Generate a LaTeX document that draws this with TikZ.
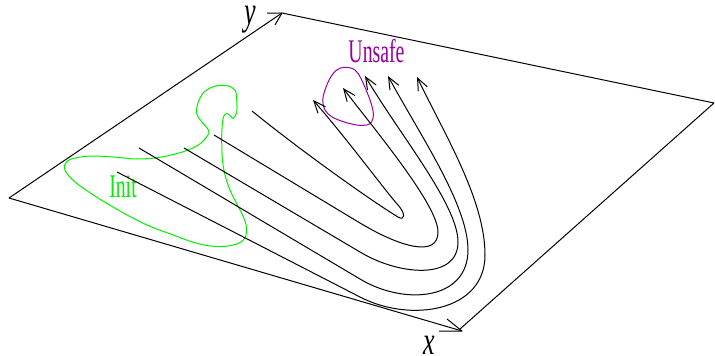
\documentclass[tikz,border=0pt]{standalone}
\usepackage{fontspec}
\setmainfont{Liberation Serif}
\usetikzlibrary{arrows.meta}
\definecolor{initgreen}{RGB}{0,240,0}
\definecolor{unsafemag}{RGB}{150,0,160}
\begin{document}
\begin{tikzpicture}[x=1pt,y=-1pt,
  edge/.style={line width=1pt,line join=round},
  traj/.style={line width=1pt,-{Straight Barb[length=12pt,width=10pt]}},
  region/.style={line width=1pt},
  lbl/.style={inner sep=0pt,anchor=base}]
\useasboundingbox (0,0) rectangle (715,356);
% plane corners
\coordinate (L) at (9,198);
\coordinate (T) at (282,13);
\coordinate (R) at (714,103);
\coordinate (B) at (460,329);
\coordinate (XT) at (462,331);
\draw[edge] (L) -- (T) -- (R) -- (B);
\draw[edge] (L) -- (XT);
% axis arrow heads
\coordinate (ya) at (267,13);
\coordinate (yb) at (275,25);
\draw[edge] (ya) -- (T) -- (yb);
\coordinate (xa) at (439,331);
\coordinate (xb) at (447,319);
\draw[edge] (xa) -- (XT) -- (xb);
% labels
\node[lbl] (ylabel) at (250,24) {\scalebox{0.65}[1]{\fontsize{40}{44}\selectfont\itshape y}};
\node[lbl] (xlabel) at (429,354) {\scalebox{0.65}[1]{\fontsize{40}{44}\selectfont\itshape x}};
\node[lbl,text=unsafemag] (unsafe) at (376.5,62) {\scalebox{0.6}[1]{\fontsize{33}{36}\selectfont Unsafe}};
\node[lbl,text=initgreen] (init) at (123,197) {\scalebox{0.6}[1]{\fontsize{33}{36}\selectfont Init}};
% Init region
\draw[region,initgreen] plot[smooth cycle,tension=0.6] coordinates {
 (208.3,130) (196.7,113.3) (201.7,95) (213.3,86.7) (226.7,85.7) (235,90)
 (236.7,100) (236.7,112) (233.3,118.3) (229,114.5) (225.5,114) (222.8,120)
 (221.7,140) (223.3,166.7) (230,190) (243.3,216.7) (246.7,230) (243.3,240)
 (233.3,245) (216.7,246.5) (196.7,243.3) (173.3,235) (143.3,223.3)
 (106.7,203.3) (76.7,183.3) (65,170) (66.7,161.7) (76.7,157.7) (93.3,156)
 (116.7,157.3) (136.7,159) (160,157.3) (183.3,151.7) (198.3,145) (206.7,136.7)};
% Unsafe region
\draw[region,unsafemag] plot[smooth cycle,tension=0.6] coordinates {
 (345,67.3) (355,70) (361.7,80) (370,100) (373.3,113.3) (371.7,121.7)
 (366.7,125) (356.7,125) (343.3,121.7) (331.7,116.7) (325,110) (322.7,100)
 (325,90) (330,78.3) (336.7,70)};
% trajectories: start (s), bend (q), rightmost (m), end (e)
\coordinate (s1) at (252,111); \coordinate (e1) at (313,100);
\coordinate (s2) at (214,135); \coordinate (q2) at (360,223); \coordinate (m2) at (438,232); \coordinate (e2) at (343,88);
\coordinate (s3) at (184,148); \coordinate (q3) at (360,252); \coordinate (m3) at (458,242); \coordinate (e3) at (365,76);
\coordinate (s4) at (139,148); \coordinate (q4) at (360,279); \coordinate (m4) at (468,250); \coordinate (e4) at (388,76);
\coordinate (s5) at (117,172); \coordinate (q5) at (360,297); \coordinate (m5) at (485,255); \coordinate (e5) at (417,77);
\draw[traj] (s1) .. controls (300,150) and (370,200) .. (398,217)
  .. controls (405,221) and (406,214) .. (398,205)
  .. controls (385,190.5) and (348,140) .. (e1);
\draw[traj] (s2) -- (q2) .. controls (400,247) and (438,258) .. (m2)
  .. controls (438,205) and (375,130) .. (e2);
\draw[traj] (s3) -- (q3) .. controls (400,276) and (458,280) .. (m3)
  .. controls (458,205) and (400,135) .. (e3);
\draw[traj] (s4) -- (q4) .. controls (405,306) and (468,300) .. (m4)
  .. controls (468,205) and (420,135) .. (e4);
\draw[traj] (s5) -- (q5) .. controls (410,323) and (485,312) .. (m5)
  .. controls (485,200) and (445,135) .. (e5);
\end{tikzpicture}
\end{document}
